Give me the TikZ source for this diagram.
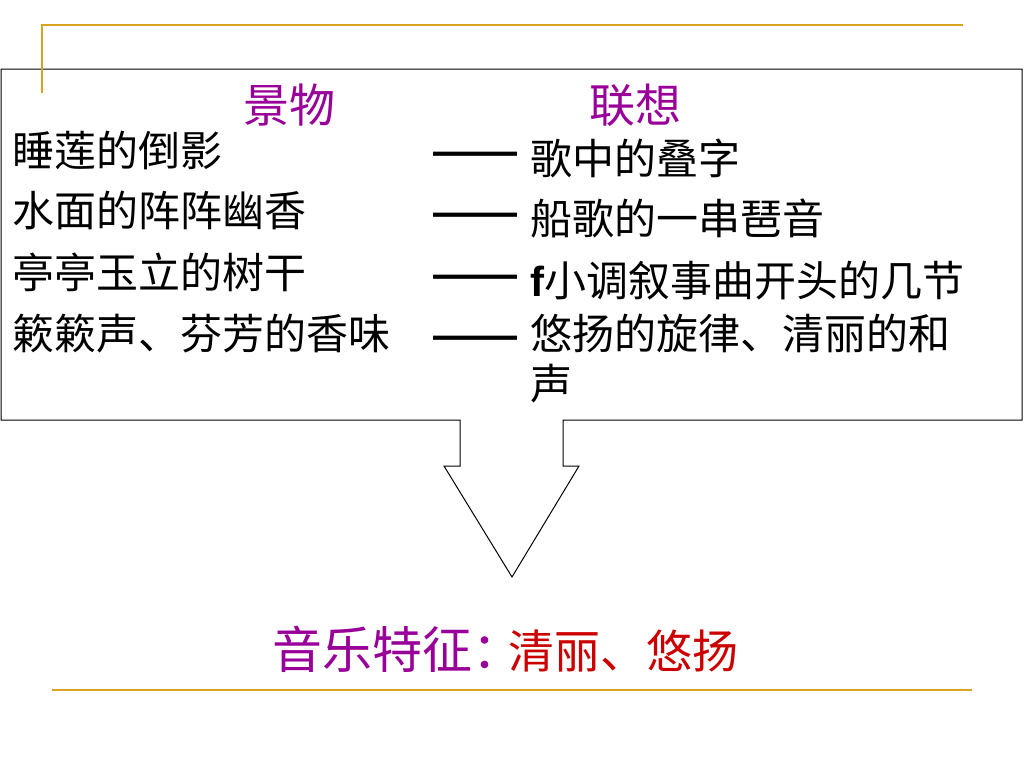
\documentclass[tikz,border=0pt]{standalone}
\usepackage{fontspec}
\setmainfont{Liberation Sans}
\newfontfamily\cjk{Noto Sans CJK SC}
\definecolor{hdrpurple}{RGB}{153,0,153}
\definecolor{featred}{RGB}{204,0,0}
\definecolor{rulegold}{RGB}{214,164,30}

\begin{document}
\begin{tikzpicture}
[x=0.75pt,y=-0.75pt,
scene/.style={anchor=base west,inner sep=0pt,font=\cjk\fontsize{31.5}{37.5}\selectfont},
assoc/.style={anchor=base west,inner sep=0pt,align=left,font=\cjk\fontsize{31.5}{37.5}\selectfont},
dashmark/.style={anchor=west,inner sep=0pt,font=\rmfamily\bfseries\fontsize{31.5}{37.5}\selectfont},
heading/.style={anchor=center,inner sep=0pt,text=hdrpurple,font=\cjk\fontsize{34.5}{40}\selectfont},
gold/.style={draw=rulegold,line width=1.5pt}]
\useasboundingbox (0,0) rectangle (1024,768);

% box with the arrow below it
\coordinate (boxtl) at (1,69);
\coordinate (boxtr) at (1022,69);
\coordinate (boxbr) at (1022,420);
\coordinate (boxbl) at (1,420);
\coordinate (tip) at (512,577);
\draw [black,line width=0.75pt] (boxtl) -- (boxtr) -- (boxbr) -- (563,420) -- (563,466)
  -- (579,466) -- (tip) -- (444,466) -- (460,466) -- (460,420) -- (boxbl) -- cycle;

\draw [gold] (42,93) -- (42,25) -- (963,25);
\draw [gold] (52,690) -- (972,690);

\node at (289,105) [heading] (jingwu)   {景物};
\node at (635,105) [heading] (lianxiang) {联想};

\node at (12,166) [scene] (s1) {睡莲的倒影};
\node at (12,226) [scene] (s2) {水面的阵阵幽香};
\node at (12,288) [scene] (s3) {亭亭玉立的树干};
\node at (12,349) [scene] (s4) {簌簌声、芬芳的香味};

\node at (433,159) [dashmark] (d1) {——};
\node at (433,220) [dashmark] (d2) {——};
\node at (433,282) [dashmark] (d3) {——};
\node at (433,343) [dashmark] (d4) {——};

\node at (530,174) [assoc] (a1) {歌中的叠字};
\node at (530,234) [assoc] (a2) {船歌的一串琶音};
\node at (530,296) [assoc] (a3) {{\rmfamily\bfseries f}小调叙事曲开头的几节};
\node at (530,399) [assoc] (a4) {悠扬的旋律、清丽的和\\声};

\node at (272,668) [anchor=base west,inner sep=0pt,text=hdrpurple,font=\cjk\fontsize{37.5}{40}\selectfont] (feat) {音乐特征：};
\node at (508,668) [anchor=base west,inner sep=0pt,text=featred,font=\cjk\fontsize{34.5}{40}\selectfont] (featval) {清丽、悠扬};
\end{tikzpicture}
\end{document}
